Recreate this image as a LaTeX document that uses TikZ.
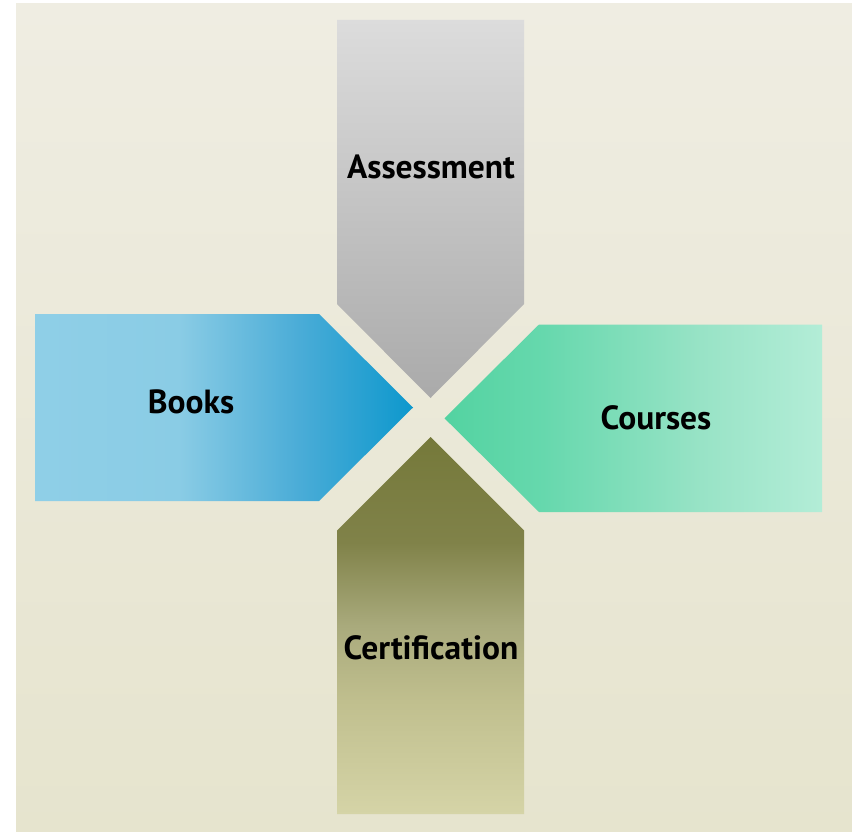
\documentclass[tikz,border=0pt]{standalone}
\usepackage{fontspec}
\setmainfont{PT Sans}
\definecolor{bgtop}{HTML}{EFEDE2}
\definecolor{bgbot}{HTML}{E6E4CE}
\definecolor{graytop}{HTML}{DCDCDC}
\definecolor{graybot}{HTML}{AAAAAA}
\definecolor{bA}{HTML}{8FCFE7}
\definecolor{bB}{HTML}{8ACCE5}
\definecolor{bC}{HTML}{4AACD7}
\definecolor{bD}{HTML}{0D98CD}
\definecolor{gA}{HTML}{53D3A1}
\definecolor{gB}{HTML}{66D8AD}
\definecolor{gC}{HTML}{98E3C6}
\definecolor{gD}{HTML}{B3EDD7}
\definecolor{oA}{HTML}{D5D4A7}
\definecolor{oB}{HTML}{C0BF8E}
\definecolor{oC}{HTML}{A9AA7C}
\definecolor{oD}{HTML}{808249}
\definecolor{oE}{HTML}{75793A}
\pgfdeclarehorizontalshading{blueshade}{100bp}{
  color(0bp)=(bA); color(25bp)=(bA);
  color(44bp)=(bB); color(60bp)=(bC);
  color(75bp)=(bD); color(100bp)=(bD)}
\pgfdeclarehorizontalshading{greenshade}{100bp}{
  color(0bp)=(gA); color(25bp)=(gA);
  color(38bp)=(gB); color(59bp)=(gC);
  color(75bp)=(gD); color(100bp)=(gD)}
\pgfdeclareverticalshading{oliveshade}{100bp}{
  color(0bp)=(oA); color(25bp)=(oA);
  color(40bp)=(oB); color(50bp)=(oC);
  color(61bp)=(oD); color(75bp)=(oE);
  color(100bp)=(oE)}
\tikzset{
  lbl/.style={font=\bfseries\fontsize{33.5}{38}\selectfont, text=black, inner sep=0pt}
}
\begin{document}
\begin{tikzpicture}[x=1pt,y=-1pt]
\useasboundingbox (0,0) rectangle (852,832);
\shade[top color=bgtop, bottom color=bgbot] (16,4) rectangle (852,832);
% Assessment (top, pointing down)
\shade[top color=graytop, bottom color=graybot]
  (337,20) -- (524,20) -- (524,304) -- (430.5,398) -- (337,304) -- cycle;
% Books (left, pointing right)
\shade[shading=blueshade]
  (35,314) -- (319,314) -- (413,407.5) -- (319,501) -- (35,501) -- cycle;
% Courses (right, pointing left)
\shade[shading=greenshade]
  (822,324.5) -- (822,512) -- (539,512) -- (444.5,418.3) -- (539,324.5) -- cycle;
% Certification (bottom, pointing up)
\shade[shading=oliveshade]
  (430.5,437) -- (524,530.5) -- (524,814) -- (337,814) -- (337,530.5) -- cycle;
\node[lbl] (assess) at (431,167) {Assessment};
\node[lbl] (books) at (191,402) {Books};
\node[lbl] (courses) at (656,418) {Courses};
\node[lbl] (cert) at (431,648) {Certification};
\end{tikzpicture}
\end{document}
